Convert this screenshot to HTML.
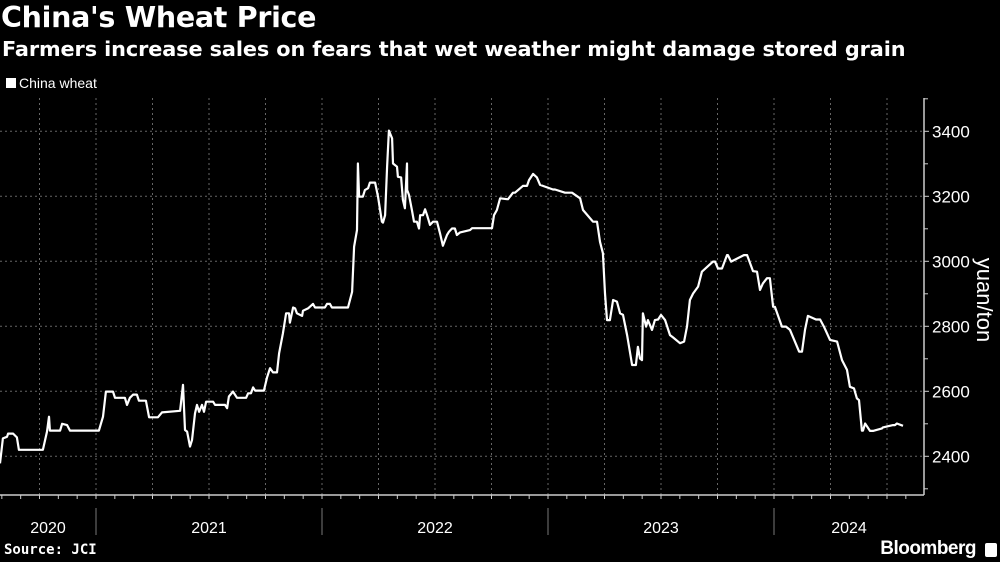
<!DOCTYPE html>
<html><head><meta charset="utf-8"><style>
html,body{margin:0;padding:0;background:#000;width:1000px;height:562px;overflow:hidden;font-family:"Liberation Sans",sans-serif;color:#fff}
#title{position:absolute;left:1px;top:1px;font-size:28.5px;font-weight:bold;font-family:"DejaVu Sans",sans-serif;letter-spacing:-0.3px}
#subtitle{position:absolute;left:2px;top:37px;font-size:20.8px;font-weight:bold;font-family:"DejaVu Sans",sans-serif;letter-spacing:-0.1px}
#legend{position:absolute;left:6px;top:75px;font-size:14px;font-family:"Liberation Sans",sans-serif}
#legend span.sw{display:inline-block;width:10px;height:10px;background:#fff;margin-right:3px}
#source{position:absolute;left:4px;top:542px;font-size:14px;font-weight:bold;font-family:"DejaVu Sans Mono",monospace}
#brand{position:absolute;right:24px;top:538px;font-size:19px;font-weight:bold;letter-spacing:-0.5px}
#brandicon{position:absolute;right:3px;top:543px;width:12px;height:14px;background:#fff;border-radius:2px}
svg{position:absolute;left:0;top:0}
</style></head><body>
<div id="title">China's Wheat Price</div>
<div id="subtitle">Farmers increase sales on fears that wet weather might damage stored grain</div>
<div id="legend"><span class="sw"></span>China wheat</div>
<svg id="chart" width="1000" height="562"></svg>
<div id="source">Source: JCI</div>
<div id="brand">Bloomberg</div>
<div id="brandicon"></div>
<script>
const dates=[2020.575,2020.588,2020.606,2020.611,2020.633,2020.650,2020.659,2020.765,2020.783,2020.792,2020.796,2020.841,2020.850,2020.872,2020.885,2021.013,2021.031,2021.044,2021.075,2021.084,2021.128,2021.137,2021.150,2021.164,2021.181,2021.190,2021.221,2021.235,2021.274,2021.292,2021.372,2021.385,2021.394,2021.403,2021.416,2021.425,2021.438,2021.447,2021.456,2021.469,2021.478,2021.487,2021.518,2021.527,2021.571,2021.580,2021.588,2021.606,2021.624,2021.664,2021.673,2021.686,2021.695,2021.704,2021.743,2021.757,2021.770,2021.783,2021.801,2021.810,2021.827,2021.841,2021.854,2021.858,2021.872,2021.881,2021.889,2021.912,2021.916,2021.938,2021.960,2021.969,2022.013,2022.022,2022.035,2022.044,2022.115,2022.133,2022.142,2022.155,2022.159,2022.164,2022.181,2022.190,2022.204,2022.212,2022.235,2022.248,2022.265,2022.270,2022.279,2022.288,2022.296,2022.310,2022.314,2022.332,2022.336,2022.350,2022.358,2022.367,2022.376,2022.377,2022.385,2022.398,2022.407,2022.420,2022.429,2022.434,2022.447,2022.456,2022.465,2022.478,2022.491,2022.509,2022.522,2022.535,2022.553,2022.562,2022.575,2022.588,2022.597,2022.611,2022.655,2022.664,2022.752,2022.761,2022.774,2022.788,2022.819,2022.823,2022.845,2022.854,2022.889,2022.907,2022.916,2022.934,2022.951,2022.965,2023.022,2023.031,2023.075,2023.106,2023.142,2023.155,2023.199,2023.217,2023.230,2023.243,2023.252,2023.261,2023.274,2023.288,2023.305,2023.319,2023.332,2023.350,2023.372,2023.389,2023.398,2023.407,2023.416,2023.420,2023.434,2023.442,2023.460,2023.473,2023.487,2023.500,2023.518,2023.540,2023.553,2023.584,2023.602,2023.615,2023.628,2023.642,2023.664,2023.681,2023.730,2023.739,2023.752,2023.770,2023.792,2023.796,2023.810,2023.867,2023.881,2023.907,2023.925,2023.938,2023.951,2023.969,2023.982,2023.996,2024.004,2024.035,2024.053,2024.071,2024.111,2024.124,2024.137,2024.150,2024.186,2024.204,2024.221,2024.248,2024.279,2024.301,2024.323,2024.336,2024.354,2024.367,2024.376,2024.389,2024.394,2024.403,2024.425,2024.438,2024.478,2024.482,2024.527,2024.535,2024.544,2024.571];
const prices=[2378,2455,2460,2470,2470,2458,2420,2420,2476,2522,2479,2479,2500,2496,2479,2479,2522,2599,2599,2580,2580,2558,2580,2590,2590,2571,2571,2520,2520,2535,2540,2620,2481,2476,2430,2450,2532,2558,2537,2558,2537,2568,2568,2558,2558,2548,2584,2599,2580,2580,2594,2594,2612,2602,2602,2643,2671,2658,2658,2717,2778,2840,2840,2811,2858,2855,2840,2832,2848,2855,2869,2858,2858,2869,2869,2858,2858,2906,3045,3096,3301,3199,3199,3219,3225,3242,3242,3199,3122,3119,3142,3291,3402,3378,3301,3291,3260,3258,3189,3163,3301,3219,3204,3158,3122,3122,3101,3142,3142,3160,3142,3112,3122,3122,3086,3048,3081,3091,3101,3101,3081,3089,3096,3102,3102,3142,3158,3194,3191,3191,3211,3211,3232,3232,3250,3269,3258,3235,3221,3221,3211,3211,3194,3158,3122,3122,3060,3025,2901,2819,2819,2881,2876,2840,2835,2773,2681,2681,2737,2701,2696,2840,2799,2819,2789,2819,2821,2835,2819,2773,2766,2748,2753,2799,2881,2901,2922,2968,2999,2999,2978,2978,3019,3019,2999,3019,3019,2970,2968,2912,2932,2948,2948,2860,2860,2799,2799,2789,2722,2722,2789,2832,2821,2821,2799,2758,2753,2696,2666,2614,2609,2578,2573,2479,2479,2501,2478,2478,2486,2489,2496,2496,2501,2494,2494];
const yTicks=[2400,2600,2800,3000,3200,3400];
const yearLabels=["2020","2021","2022","2023","2024"];
const yearStarts=[2020,2021,2022,2023,2024];

const NS="http://www.w3.org/2000/svg";
const svg=document.getElementById('chart');
const plotR=924, plotTop=98, plotBot=495;
function xs(t){return 96+(t-2021)*226;}
function ys(v){return 456.3-(v-2400)*0.325;}
function mk(tag,attrs,parent){const e=document.createElementNS(NS,tag);for(const k in attrs)e.setAttribute(k,attrs[k]);(parent||svg).appendChild(e);return e;}

for(let q=2020.25;q<2025;q+=0.25){const x=xs(q);if(x<2||x>plotR-2)continue;
 const g=mk('line',{x1:x,x2:x,y1:plotTop,y2:plotBot,stroke:'#666','stroke-width':1,'stroke-dasharray':'2,3'});
 
 }
yTicks.forEach(v=>{const y=ys(v);
 const g=mk('line',{x1:0,x2:plotR,y1:y,y2:y,stroke:'#666','stroke-width':1,'stroke-dasharray':'2,3'});
 
 
 mk('line',{x1:plotR,x2:plotR+5,y1:y,y2:y,stroke:'#ccc'});
 const t=mk('text',{x:plotR+8,y:y+6,fill:'#fff','font-size':17,'font-family':'"Liberation Sans Narrow","Liberation Sans",sans-serif'});
 t.textContent=v;
 
 });
for(let v=2300;v<=3500;v+=100){if(v%200)mk('line',{x1:plotR,x2:plotR+4,y1:ys(v),y2:ys(v),stroke:'#ccc'});}
const ya=mk('line',{x1:plotR,x2:plotR,y1:plotTop,y2:plotBot,stroke:'#ccc','stroke-width':1.5});


const xa=mk('line',{x1:0,x2:plotR,y1:plotBot,y2:plotBot,stroke:'#ccc','stroke-width':1.5});


for(let m=0;m<60;m++){const x=xs(2020+m/12);if(x<1||x>plotR)continue;mk('line',{x1:x,x2:x,y1:plotBot,y2:plotBot+4,stroke:'#ccc'});}
yearStarts.forEach((yr,i)=>{
 const x0=xs(yr), x1=Math.min(xs(yr+1),plotR);
 if(x0>0)mk('line',{x1:x0,x2:x0,y1:508,y2:535,stroke:'#777'});
 const cx=(Math.max(x0,0)+x1)/2;
 const t=mk('text',{x:cx,y:533,fill:'#fff','font-size':16,'text-anchor':'middle','font-family':'"Liberation Sans Narrow","Liberation Sans",sans-serif'});
 t.textContent=yearLabels[i];
 
 });
const yt=mk('text',{x:0,y:0,fill:'#fff','font-size':22,'text-anchor':'middle',transform:'translate(977,300) rotate(90)','font-family':'"Liberation Sans",sans-serif'});
yt.textContent='yuan/ton';


let d='';dates.forEach((t,i)=>{d+=(i?'L':'M')+xs(t).toFixed(1)+','+ys(prices[i]).toFixed(1);});
const p=mk('path',{d:d,fill:'none',stroke:'#fff','stroke-width':2.2,'stroke-linejoin':'round'});


</script>
</body></html>
